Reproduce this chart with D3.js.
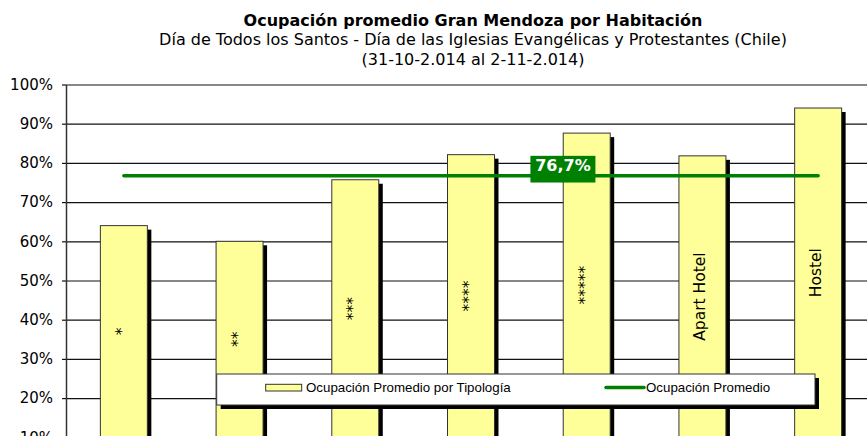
<!DOCTYPE html>
<html><head><meta charset="utf-8">
<script src="https://cdn.jsdelivr.net/npm/d3@7"></script>
<style>body{margin:0;background:#fff;overflow:hidden}</style>
</head><body><svg id="c" width="867" height="436"></svg>
<script>
// ---- data ----
const categories = ["*", "**", "***", "****", "*****", "Apart Hotel", "Hostel"];
const occupancy = [0.640, 0.600, 0.757, 0.821, 0.876, 0.818, 0.940];
const averageOccupancy = 0.767;
const averageLabel = "76,7%";
const yTicks = [0.1, 0.2, 0.3, 0.4, 0.5, 0.6, 0.7, 0.8, 0.9, 1.0];
const titleText = "Ocupación promedio Gran Mendoza por Habitación";
const subtitleLines = ["Día de Todos los Santos - Día de las Iglesias Evangélicas y Protestantes (Chile)", "(31-10-2.014 al 2-11-2.014)"];
const legendLabels = ["Ocupación Promedio por Tipología", "Ocupación Promedio"];

// ---- layout ----
const W = 867, H = 436;
const plotLeft = 66, plotRight = 876, plotTop = 84.5, plotBottom = 437.3;
const svg = d3.select("#c");
const FONT = "'DejaVu Sans', Verdana, sans-serif";

const x = d3.scaleBand().domain(categories).range([plotLeft, plotRight]).paddingInner(0.594).paddingOuter(0.297);
const y = d3.scaleLinear().domain([0.1, 1.0]).range([plotBottom, plotTop]);
const bw = x.bandwidth();

// titles
const tcx = 473;
svg.append("text").attr("x", tcx).attr("y", 25.8).attr("text-anchor", "middle")
  .style("font-family", FONT).style("font-weight", "bold").style("font-size", "16px").attr("fill", "#000").text(titleText);
svg.selectAll("text.sub").data(subtitleLines).join("text").attr("class", "sub")
  .attr("x", tcx).attr("y", (d, i) => i === 0 ? 45.3 : 65).attr("text-anchor", "middle")
  .style("font-family", FONT).style("font-size", "16px").attr("fill", "#000").text(d => d);

// gridlines
const grid = svg.append("g").attr("transform", `translate(${plotLeft},0)`)
  .call(d3.axisLeft(y).tickValues(yTicks).tickSize(-(W - plotLeft)).tickFormat(""));
grid.select(".domain").remove();
grid.selectAll(".tick line").attr("stroke", "#111").attr("stroke-width", 1.2);

// y axis with labels
const ax = svg.append("g").attr("transform", `translate(${plotLeft},0)`)
  .call(d3.axisLeft(y).tickValues(yTicks).tickSize(4).tickSizeOuter(0).tickPadding(9).tickFormat(d3.format(".0%")));
ax.select(".domain").attr("stroke", "#333").attr("stroke-width", 1.5);
ax.selectAll(".tick line").attr("stroke", "#111").attr("stroke-width", 1.2);
ax.selectAll(".tick text").style("font-family", FONT).style("font-size", "15px").attr("fill", "#000");

// bars: shadows then bars
svg.append("g").selectAll("rect").data(occupancy).join("rect")
  .attr("x", (d, i) => x(categories[i]) + 4).attr("y", d => y(d) + 4)
  .attr("width", bw).attr("height", d => plotBottom - y(d) + 10).attr("fill", "#000");
svg.append("g").selectAll("rect").data(occupancy).join("rect")
  .attr("x", (d, i) => x(categories[i])).attr("y", d => y(d))
  .attr("width", bw).attr("height", d => plotBottom - y(d) + 10)
  .attr("fill", "#FFFF99").attr("stroke", "#333").attr("stroke-width", 1);

// bar labels (rotated)
svg.append("g").selectAll("text").data(occupancy).join("text")
  .attr("transform", (d, i) => `translate(${x(categories[i]) + bw / 2 + 3},${(y(d) + plotBottom) / 2}) rotate(-90)`)
  .attr("text-anchor", "middle").style("font-family", FONT).style("font-size", "15.5px").attr("fill", "#000")
  .text((d, i) => categories[i]);

// average line
const line = d3.line().x(d => x(d) + bw / 2).y(() => y(averageOccupancy));
svg.append("path").datum(categories).attr("d", line).attr("fill", "none")
  .attr("stroke", "#008000").attr("stroke-width", 3.5).attr("stroke-linecap", "round");

// average label
const lx = x(categories[4]) + bw / 2 - 56.3, ly = y(averageOccupancy) - 20;
svg.append("rect").attr("x", lx).attr("y", ly).attr("width", 65).attr("height", 26.7).attr("fill", "#008000");
svg.append("text").attr("x", lx + 32.5).attr("y", y(averageOccupancy) - 5).attr("text-anchor", "middle")
  .style("font-family", FONT).style("font-weight", "bold").style("font-size", "16px").attr("fill", "#fff").text(averageLabel);

// legend
const LF = "'Liberation Sans', Arial, sans-serif";
const lg = svg.append("g");
lg.append("rect").attr("x", 220.7).attr("y", 378).attr("width", 598.3).attr("height", 31).attr("fill", "#000");
lg.append("rect").attr("x", 216.7).attr("y", 374).attr("width", 598.3).attr("height", 31).attr("fill", "#fff").attr("stroke", "#333").attr("stroke-width", 1);
lg.append("rect").attr("x", 265.7).attr("y", 384.3).attr("width", 36).attr("height", 6.7).attr("fill", "#FFFF99").attr("stroke", "#333").attr("stroke-width", 1);
lg.append("line").attr("x1", 606).attr("x2", 644).attr("y1", 387.5).attr("y2", 387.5).attr("stroke", "#008000").attr("stroke-width", 3.5).attr("stroke-linecap", "round");
lg.selectAll("text").data(legendLabels).join("text")
  .attr("x", (d, i) => i === 0 ? 306 : 646).attr("y", 392)
  .style("font-family", LF).style("font-size", "13.3px").attr("fill", "#000").text(d => d);
</script></body></html>
